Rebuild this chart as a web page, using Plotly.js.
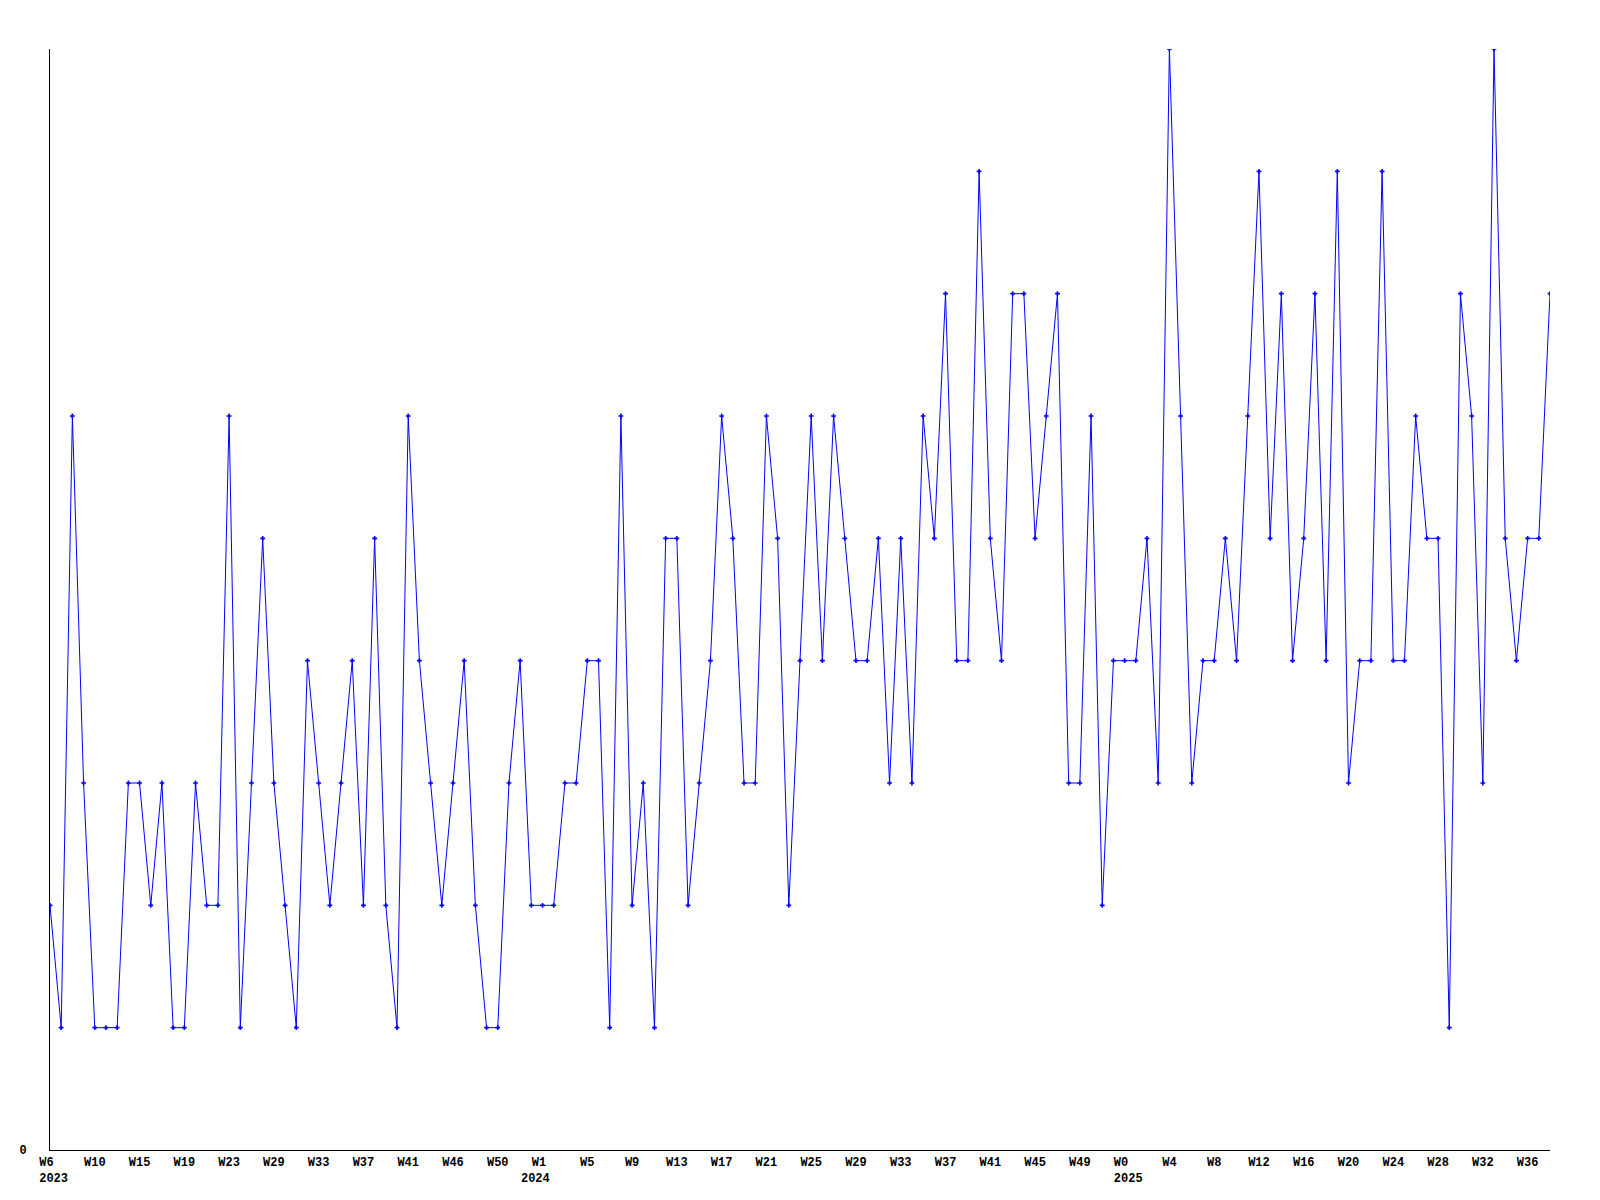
<!DOCTYPE html>
<html>
<head>
<meta charset="utf-8">
<script src="https://cdn.plot.ly/plotly-3.0.1.min.js"></script>
<style>
  html, body { margin: 0; padding: 0; background: #ffffff; }
  #chart { width: 1600px; height: 1200px; }
</style>
</head>
<body>
<div id="chart"></div>
<script>
// Weekly counts, 2023 W6 onward (one value per plotted week)
const values = [
  2, 1, 6, 3, 1, 1, 1, 3, 3, 2, 3, 1, 1, 3, 2, 2, 6, 1, 3, 5, 3, 2, 1, 4,
  3, 2, 3, 4, 2, 5, 2, 1, 6, 4, 3, 2, 3, 4, 2, 1, 1, 3, 4, 2, 2, 2, 3, 3,
  4, 4, 1, 6, 2, 3, 1, 5, 5, 2, 3, 4, 6, 5, 3, 3, 6, 5, 2, 4, 6, 4, 6, 5,
  4, 4, 5, 3, 5, 3, 6, 5, 7, 4, 4, 8, 5, 4, 7, 7, 5, 6, 7, 3, 3, 6, 2, 4,
  4, 4, 5, 3, 9, 6, 3, 4, 4, 5, 4, 6, 8, 5, 7, 4, 5, 7, 4, 8, 3, 4, 4, 8,
  4, 4, 6, 5, 5, 1, 7, 6, 3, 9, 5, 4, 5, 5, 7
];

// Tick labels shown every 4th week position
const tickWeeks = [
  "W6", "W10", "W15", "W19", "W23", "W29", "W33", "W37", "W41", "W46", "W50",
  "W1", "W5", "W9", "W13", "W17", "W21", "W25", "W29", "W33", "W37", "W41",
  "W45", "W49", "W0", "W4", "W8", "W12", "W16", "W20", "W24", "W28", "W32", "W36"
];
const tickYears = {0: "2023", 11: "2024", 24: "2025"};
const tickStep = 4;

const xIdx = values.map((_, i) => i);
const tickvals = tickWeeks.map((_, i) => i * tickStep);
const NB = "\u00A0";
// small horizontal nudges (in monospace character cells) for the two-line labels
const yearLineNudge = {0: [NB, "", NB, ""], 11: [NB, "", "", NB + NB], 24: [NB, "", NB, ""]};
const ticktext = tickWeeks.map((w, i) => {
  if (tickYears[i] !== undefined) {
    const n = yearLineNudge[i];
    // n = [week trailing pad, week leading pad, year leading pad, year trailing pad]
    return n[1] + w + n[0] + "<br>" + n[2] + tickYears[i] + n[3];
  }
  return w;
});

const fontFamily = "'Liberation Mono', 'DejaVu Sans Mono', monospace";

const trace = {
  x: xIdx,
  y: values,
  type: "scatter",
  mode: "lines+markers",
  line: { color: "#0000ff", width: 1 },
  marker: { color: "#0000ff", symbol: "cross", size: 4, line: { width: 0 } },
  hoverinfo: "skip"
};

const layout = {
  width: 1600,
  height: 1200,
  paper_bgcolor: "#ffffff",
  plot_bgcolor: "#ffffff",
  showlegend: false,
  margin: { l: 50, r: 50, t: 49, b: 50, pad: 0 },
  xaxis: {
    range: [0, values.length - 1],
    tickmode: "array",
    tickvals: tickvals,
    ticktext: ticktext,
    ticks: "",
    showgrid: false,
    zeroline: false,
    showline: true,
    linecolor: "#000000",
    linewidth: 1,
    tickangle: 0,
    ticklabelstandoff: 1,
    tickfont: { family: fontFamily, size: 12, color: "#000000", weight: "bold" }
  },
  yaxis: {
    range: [0, 9],
    tickmode: "array",
    tickvals: [0],
    ticktext: ["0"],
    ticks: "",
    showgrid: false,
    zeroline: false,
    showline: true,
    linecolor: "#000000",
    linewidth: 1,
    ticklabelstandoff: 20,
    tickfont: { family: fontFamily, size: 12, color: "#000000", weight: "bold" }
  }
};

Plotly.newPlot("chart", [trace], layout, { staticPlot: true, displayModeBar: false });
</script>
</body>
</html>
